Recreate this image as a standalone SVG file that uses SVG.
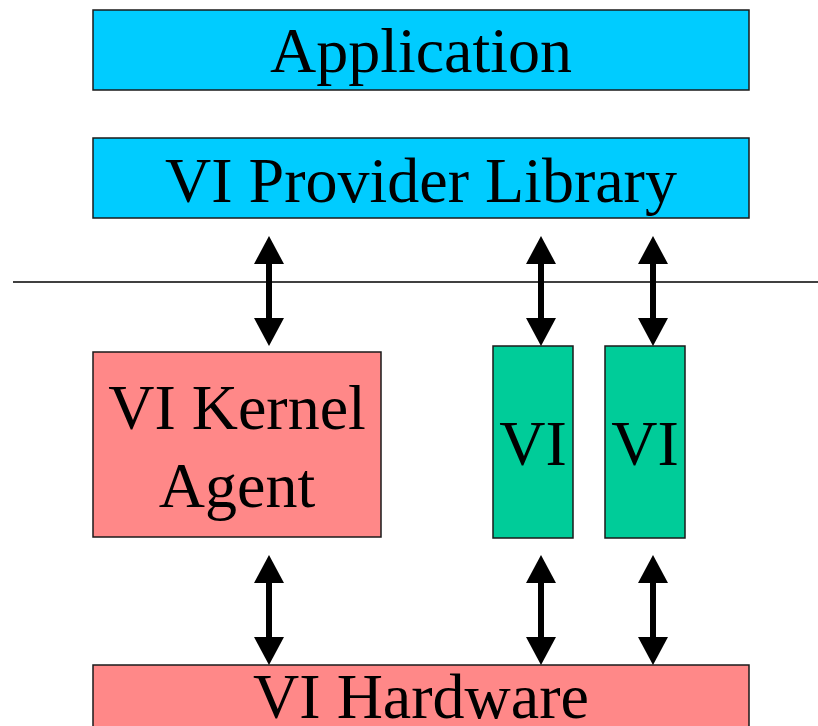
<svg xmlns="http://www.w3.org/2000/svg" width="818" height="726" viewBox="0 0 818 726">
  <style>
    .box { stroke: #1a1a1a; stroke-width: 1.5; }
    .sys { fill: #00ccff; }
    .krn { fill: #ff8888; }
    .vi { fill: #00cc99; }
    .lbl { font-family: "Liberation Serif", "Times New Roman", serif; font-size: 64px; fill: #000; text-anchor: middle; }
    .link { stroke: #000; stroke-width: 6; fill: none; marker-start: url(#head); marker-end: url(#head); }
  </style>
  <defs>
    <!-- solid triangular arrowhead, base sits on the line end -->
    <marker id="head" viewBox="0 0 28 30" markerUnits="userSpaceOnUse" markerWidth="28" markerHeight="30" refX="0" refY="15" orient="auto-start-reverse">
      <path d="M0,0 L28,15 L0,30 Z" fill="#000"/>
    </marker>
  </defs>

  <rect width="818" height="726" fill="#fff"/>

  <!-- user / kernel boundary -->
  <line x1="13" y1="282" x2="818" y2="282" stroke="#000" stroke-width="1.5"/>

  <g id="application">
    <rect class="box sys" x="93" y="10" width="656" height="80"/>
    <text class="lbl" x="421" y="72">Application</text>
  </g>

  <g id="provider-library">
    <rect class="box sys" x="93" y="138" width="656" height="80"/>
    <text class="lbl" x="421" y="202">VI Provider Library</text>
  </g>

  <g id="kernel-agent">
    <rect class="box krn" x="93" y="352" width="288" height="185"/>
    <text class="lbl" x="237" y="429">VI Kernel</text>
    <text class="lbl" x="237" y="507">Agent</text>
  </g>

  <g id="vi-1">
    <rect class="box vi" x="493" y="346" width="80" height="192"/>
    <text class="lbl" x="533" y="465">VI</text>
  </g>

  <g id="vi-2">
    <rect class="box vi" x="605" y="346" width="80" height="192"/>
    <text class="lbl" x="645" y="465">VI</text>
  </g>

  <g id="hardware">
    <rect class="box krn" x="93" y="665" width="656" height="80"/>
    <text class="lbl" x="421" y="718">VI Hardware</text>
  </g>

  <g id="connectors">
    <line class="link" x1="269" y1="264" x2="269" y2="318"/>
    <line class="link" x1="541" y1="264" x2="541" y2="318"/>
    <line class="link" x1="653" y1="264" x2="653" y2="318"/>
    <line class="link" x1="269" y1="583" x2="269" y2="637"/>
    <line class="link" x1="541" y1="583" x2="541" y2="637"/>
    <line class="link" x1="653" y1="583" x2="653" y2="637"/>
  </g>
</svg>
